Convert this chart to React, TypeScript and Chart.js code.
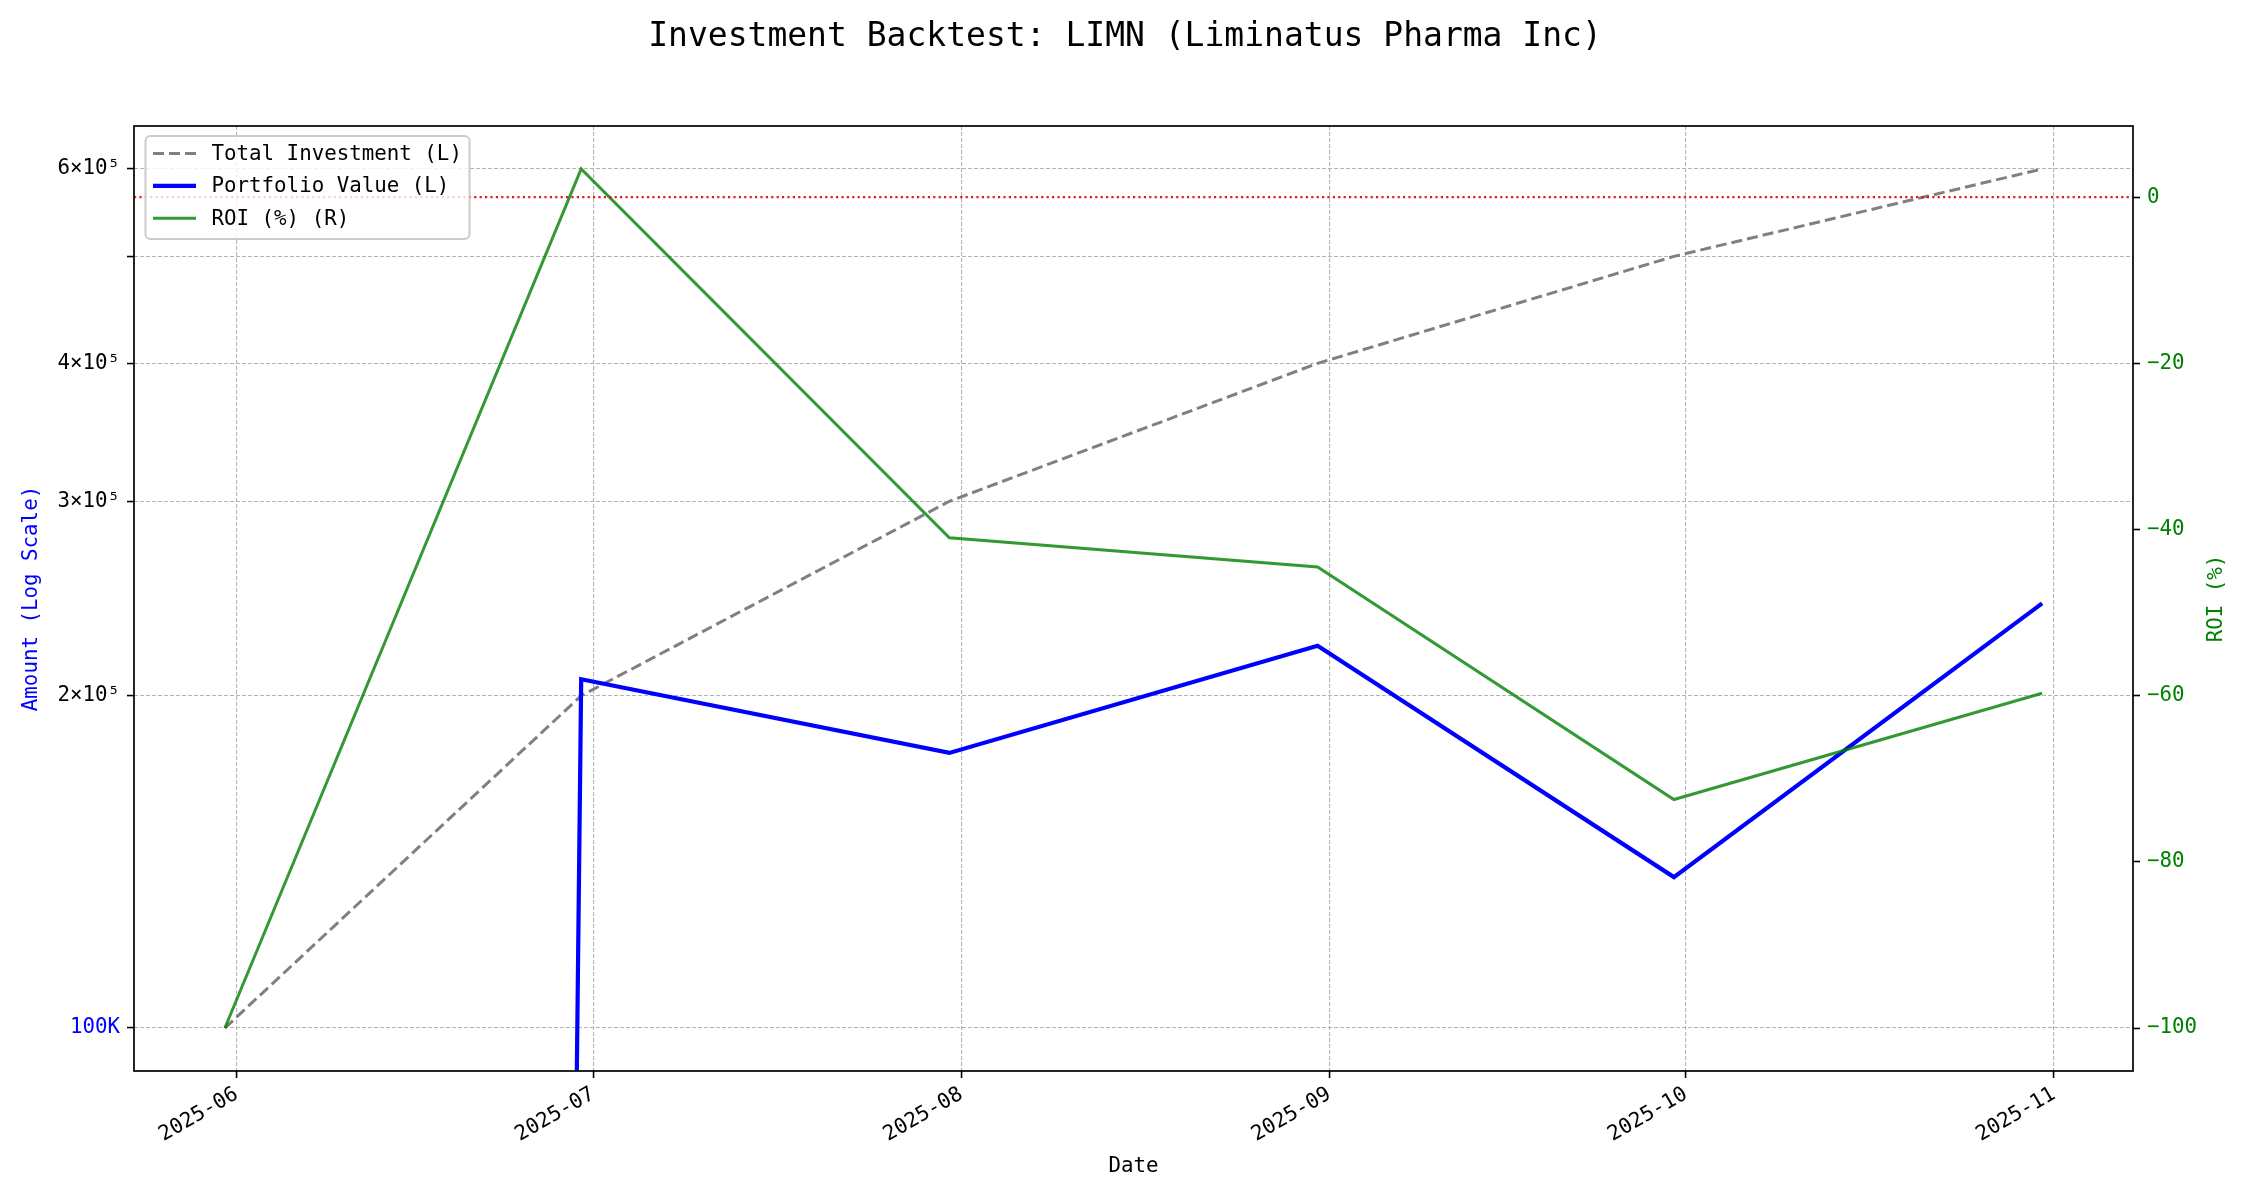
import React, { useEffect, useRef } from "react";
import { Chart, registerables } from "chart.js";

Chart.register(...registerables);

// ---------------- data ----------------
const dates = ["2025-05-31", "2025-06-30", "2025-07-31", "2025-08-31", "2025-09-30", "2025-10-31"];
const totalInvestment = [100000, 200000, 300000, 400000, 500000, 600000];
const portfolioValue = [0, 207000, 177500, 222000, 137000, 242500];
const roiPct = [-100, 3.4, -41.0, -44.5, -72.5, -59.7];

const monthTicks = ["2025-06", "2025-07", "2025-08", "2025-09", "2025-10", "2025-11"];
const leftTickValues = [100000, 200000, 300000, 400000, 500000, 600000];
const leftTickLabels = ["100K", "2×10⁵", "3×10⁵", "4×10⁵", "", "6×10⁵"];
const rightTickValues = [-100, -80, -60, -40, -20, 0];
const legendOrder = ["Total Investment (L)", "Portfolio Value (L)", "ROI (%) (R)"];

const TITLE = "Investment Backtest: LIMN (Liminatus Pharma Inc)";
const MONO = "DejaVu Sans Mono";
const FS = 20.8;

// ---------------- helpers ----------------
const DAY = 86400000;
const toDay = (s: string) => {
  const [y, m, d] = s.split("-").map(Number);
  return Date.UTC(y, m - 1, d || 1) / DAY;
};
const xs = dates.map(toDay);
const monthTickDays = monthTicks.map((m) => toDay(m + "-01"));
const xSpan = xs[xs.length - 1] - xs[0];
const xMin = xs[0] - 0.05 * xSpan;
const xMax = xs[xs.length - 1] + 0.05 * xSpan;

const posVals = [...totalInvestment, ...portfolioValue].filter((v) => v > 0);
const lLo = Math.log10(Math.min(...posVals));
const lHi = Math.log10(Math.max(...posVals));
const lM = 0.05 * (lHi - lLo);
const yMin = Math.pow(10, lLo - lM);
const yMax = Math.pow(10, lHi + lM);

const rLo = Math.min(...roiPct);
const rHi = Math.max(...roiPct);
const rM = 0.05 * (rHi - rLo);

// log axis clips non-positive values (like matplotlib's nonpositive="clip")
const logClip = (v: number) => (v > 0 ? v : 1e-300);

const GRID = "#b3b3b3";

const customPlugin = {
  id: "custom",
  afterDatasetsDraw(chart: any) {
    const { ctx, chartArea: a } = chart;
    ctx.save();
    ctx.strokeStyle = "#000";
    ctx.lineWidth = 1.7;
    ctx.setLineDash([]);
    ctx.strokeRect(a.left, a.top, a.right - a.left, a.bottom - a.top);
    ctx.restore();
  },
  afterDraw(chart: any) {
    const { ctx, chartArea: a } = chart;
    ctx.save();
    // title
    ctx.fillStyle = "#000";
    ctx.font = `33px "${MONO}"`;
    ctx.textAlign = "center";
    ctx.textBaseline = "middle";
    ctx.fillText(TITLE, chart.width / 2, 37);

    // right axis title
    ctx.save();
    ctx.translate(2217, (a.top + a.bottom) / 2);
    ctx.rotate(-Math.PI / 2);
    ctx.fillStyle = "green";
    ctx.font = `${FS}px "${MONO}"`;
    ctx.textAlign = "center";
    ctx.textBaseline = "middle";
    ctx.fillText("ROI (%)", 0, 0);
    ctx.restore();

    // legend
    const items = legendOrder
      .map((l) => chart.data.datasets.find((d: any) => d.label === l))
      .filter(Boolean);
    const bx = 145.5, by = 136, bw = 324, bh = 103;
    ctx.beginPath();
    ctx.roundRect(bx, by, bw, bh, 5);
    ctx.fillStyle = "rgba(255,255,255,0.8)";
    ctx.fill();
    ctx.strokeStyle = "#cccccc";
    ctx.lineWidth = 2;
    ctx.stroke();
    const rows = [153.5, 185.8, 218.3];
    items.forEach((d: any, i: number) => {
      const y = rows[i];
      ctx.beginPath();
      ctx.setLineDash(d.borderDash || []);
      ctx.strokeStyle = d.borderColor;
      ctx.lineWidth = d.borderWidth;
      ctx.moveTo(153, y);
      ctx.lineTo(196, y);
      ctx.stroke();
      ctx.setLineDash([]);
      ctx.fillStyle = "#000";
      ctx.font = `${FS}px "${MONO}"`;
      ctx.textAlign = "left";
      ctx.textBaseline = "middle";
      ctx.fillText(d.label, 211.5, y + 1);
    });
    ctx.restore();
  },
};

export default function App() {
  const ref = useRef<HTMLCanvasElement | null>(null);

  useEffect(() => {
    document.body.style.margin = "0";
    const canvas = ref.current;
    if (!canvas) return;

    const chart = new Chart(canvas, {
      type: "line",
      data: {
        datasets: [
          {
            label: "ROI (%) (R)",
            data: xs.map((x, i) => ({ x, y: roiPct[i] })),
            yAxisID: "y1",
            borderColor: "rgba(0,128,0,0.8)",
            borderWidth: 3,
            pointRadius: 0,
            tension: 0,
            order: 1,
          },
          {
            label: "",
            data: [
              { x: xMin, y: 0 },
              { x: xMax, y: 0 },
            ],
            yAxisID: "y1",
            borderColor: "rgba(225,0,0,0.9)",
            borderWidth: 2.2,
            borderDash: [2.2, 3.2],
            pointRadius: 0,
            order: 0,
          },
          {
            label: "Portfolio Value (L)",
            data: xs.map((x, i) => ({ x, y: logClip(portfolioValue[i]) })),
            yAxisID: "y",
            borderColor: "#0000ff",
            borderWidth: 4.2,
            pointRadius: 0,
            tension: 0,
            order: 2,
          },
          {
            label: "Total Investment (L)",
            data: xs.map((x, i) => ({ x, y: totalInvestment[i] })),
            yAxisID: "y",
            borderColor: "#808080",
            borderWidth: 3,
            borderDash: [11, 5],
            pointRadius: 0,
            tension: 0,
            order: 3,
          },
        ] as any,
      },
      options: {
        responsive: false,
        animation: false,
        devicePixelRatio: 1,
        layout: { padding: { top: 126, left: 0, right: 0, bottom: 0 } },
        plugins: {
          legend: { display: false },
          title: { display: false },
          tooltip: { enabled: false },
        },
        scales: {
          x: {
            type: "linear",
            min: xMin,
            max: xMax,
            bounds: "data",
            afterBuildTicks: (s: any) => {
              s.ticks = monthTickDays.map((v) => ({ value: v }));
            },
            afterFit: (s: any) => {
              s.height = 129;
            },
            ticks: {
              autoSkip: false,
              minRotation: 30,
              maxRotation: 30,
              padding: 4,
              color: "#000",
              font: { family: MONO, size: FS },
              callback: (v: any) => {
                const i = monthTickDays.indexOf(v);
                return i >= 0 ? monthTicks[i] : "";
              },
            },
            grid: {
              color: GRID,
              lineWidth: 1.1,
              tickColor: "#000",
              tickLength: 7,
              tickWidth: 1.6,
            },
            border: { display: false, dash: [4, 2] },
            title: {
              display: true,
              text: "Date",
              color: "#000",
              font: { family: MONO, size: FS },
              padding: { top: 0, bottom: 20.5 },
            },
          },
          y: {
            type: "logarithmic",
            position: "left",
            min: yMin,
            max: yMax,
            bounds: "data",
            afterBuildTicks: (s: any) => {
              s.ticks = leftTickValues.map((v) => ({ value: v }));
            },
            afterFit: (s: any) => {
              s.width = 134;
            },
            ticks: {
              autoSkip: false,
              padding: 7,
              color: (c: any) => (c.tick && c.tick.value === 100000 ? "#0000ff" : "#000"),
              font: { family: MONO, size: FS },
              callback: (v: any) => {
                const i = leftTickValues.indexOf(v);
                return i >= 0 ? leftTickLabels[i] : "";
              },
            },
            grid: {
              color: GRID,
              lineWidth: 1.1,
              tickColor: "#000",
              tickLength: 7,
              tickWidth: 1.6,
            },
            border: { display: false, dash: [4, 2] },
            title: {
              display: true,
              text: "Amount (Log Scale)",
              color: "#0000ff",
              font: { family: MONO, size: FS },
              padding: { top: 19.5, bottom: 0 },
            },
          },
          y1: {
            type: "linear",
            position: "right",
            min: rLo - rM,
            max: rHi + rM,
            bounds: "data",
            afterBuildTicks: (s: any) => {
              s.ticks = rightTickValues.map((v) => ({ value: v }));
            },
            afterFit: (s: any) => {
              s.width = 117;
            },
            ticks: {
              autoSkip: false,
              padding: 7,
              color: "green",
              font: { family: MONO, size: FS },
              callback: (v: any) => String(v).replace("-", "\u2212"),
            },
            grid: {
              drawOnChartArea: false,
              tickColor: "#000",
              tickLength: 7,
              tickWidth: 1.6,
            },
            border: { display: false },
          },
        },
      } as any,
      plugins: [customPlugin],
    });

    return () => chart.destroy();
  }, []);

  return (
    <div style={{ position: "absolute", left: 0, top: 0, width: 2250, height: 1200, background: "#fff" }}>
      <canvas ref={ref} width={2250} height={1200} style={{ display: "block", width: 2250, height: 1200 }} />
    </div>
  );
}
